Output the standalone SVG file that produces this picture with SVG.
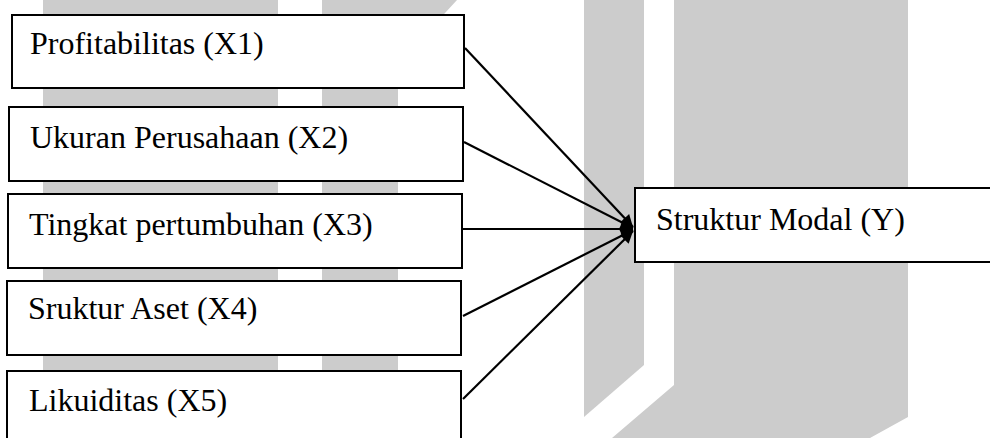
<svg xmlns="http://www.w3.org/2000/svg" width="990" height="438" viewBox="0 0 990 438">
<style>
.wm{fill:#cccccc;stroke:none}
.box{fill:#ffffff;stroke:#000000;stroke-width:2}
.lbl{font-family:"Liberation Serif","Times New Roman",serif;font-size:32px;fill:#000000}
.con{stroke:#000000;stroke-width:2.2;fill:none}
</style>
<defs>
<marker id="ah" viewBox="0 0 10 10" refX="10" refY="5" markerWidth="6" markerHeight="5.5" markerUnits="strokeWidth" orient="auto">
<path d="M0,0 L10,5 L0,10 z" fill="#000000"/>
</marker>
</defs>
<rect width="990" height="438" fill="#ffffff"/>
<g id="watermark">
<rect class="wm" x="43" y="0" width="235" height="438"/>
<polygon class="wm" points="322,0 457,0 398,64 398,438 322,438"/>
<polygon class="wm" points="584,0 644,0 644,365 584,417"/>
<polygon class="wm" points="674,0 908,0 908,417 870,438 612,438 674,385"/>
</g>
<g id="connectors">
<line class="con" x1="465" y1="48" x2="633" y2="227" marker-end="url(#ah)"/>
<line class="con" x1="464" y1="142" x2="633" y2="228" marker-end="url(#ah)"/>
<line class="con" x1="463" y1="229" x2="633" y2="229" marker-end="url(#ah)"/>
<line class="con" x1="463" y1="316" x2="633" y2="230" marker-end="url(#ah)"/>
<line class="con" x1="463" y1="399" x2="633" y2="231" marker-end="url(#ah)"/>
</g>
<g id="x1">
<rect class="box" x="12" y="15" width="452" height="73"/>
<text class="lbl" x="30" y="54">Profitabilitas (X1)</text>
</g>
<g id="x2">
<rect class="box" x="9" y="107" width="454" height="74"/>
<text class="lbl" x="30" y="148">Ukuran Perusahaan (X2)</text>
</g>
<g id="x3">
<rect class="box" x="8" y="194" width="454" height="74"/>
<text class="lbl" x="29" y="235">Tingkat pertumbuhan (X3)</text>
</g>
<g id="x4">
<rect class="box" x="7" y="281" width="454" height="74"/>
<text class="lbl" x="28" y="319">Sruktur Aset (X4)</text>
</g>
<g id="x5">
<rect class="box" x="7" y="371" width="454" height="80"/>
<text class="lbl" x="29" y="411">Likuiditas (X5)</text>
</g>
<g id="y">
<rect class="box" x="635" y="188" width="370" height="74"/>
<text class="lbl" x="656" y="230">Struktur Modal (Y)</text>
</g>
</svg>
